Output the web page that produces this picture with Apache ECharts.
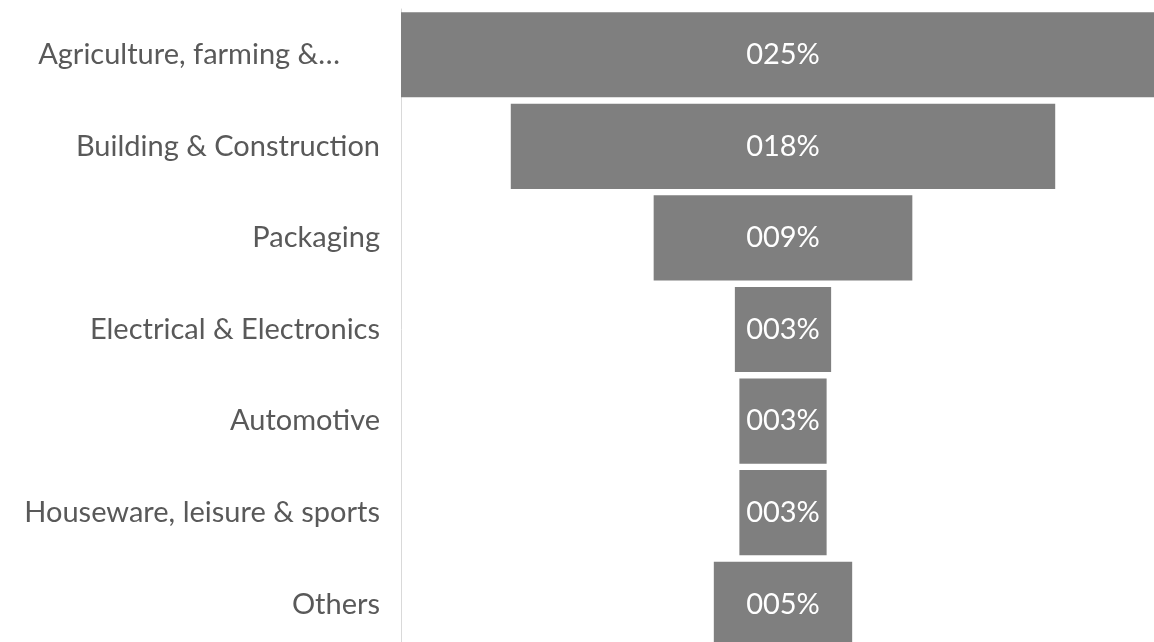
<!DOCTYPE html>
<html>
<head>
<meta charset="utf-8">
<script src="https://cdn.jsdelivr.net/npm/echarts@6/dist/echarts.min.js"></script>
<style>
  html, body { margin: 0; padding: 0; background: #fff; overflow: hidden; }
  /* the widest bar runs past the right edge of the picture, so the canvas is a bit larger than the window */
  #chart { width: 1170px; height: 656px; }
</style>
</head>
<body>
<div id="chart"></div>
<script>
// categories, top to bottom
const categories = [
    'Agriculture, farming &…',
    'Building & Construction',
    'Packaging',
    'Electrical & Electronics',
    'Automotive',
    'Houseware, leisure & sports',
    'Others'
];
// share in percent
const shares = [25.4, 18.1, 8.6, 3.2, 2.9, 2.9, 4.6];

const maxShare = Math.max(...shares);
// invisible spacer so every bar sits centred (funnel look)
const spacer = shares.map(v => (maxShare - v) / 2);

// the truncated first label sits a little further left
const yData = categories.map((c, i) => i === 0
    ? { value: c, textStyle: { padding: [0, 40, 0, 0] } }
    : c);

const chart = echarts.init(document.getElementById('chart'));
chart.setOption({
    animation: false,
    grid: { left: 401, top: 9, width: 764, height: 641 },
    xAxis: {
        type: 'value',
        min: 0,
        max: maxShare,
        show: false
    },
    yAxis: {
        type: 'category',
        data: yData,
        inverse: true,
        axisLine: { show: true, lineStyle: { color: '#d9d9d9', width: 1 } },
        axisTick: { show: false },
        axisLabel: {
            color: '#595959',
            fontFamily: 'Lato',
            fontSize: 29,
            margin: 21
        }
    },
    series: [
        {
            type: 'bar',
            stack: 'f',
            data: spacer,
            itemStyle: { color: 'transparent' },
            barCategoryGap: '7%',
            silent: true
        },
        {
            type: 'bar',
            stack: 'f',
            data: shares,
            barCategoryGap: '7%',
            itemStyle: { color: '#7f7f7f' },
            label: {
                show: true,
                position: 'inside',
                color: '#ffffff',
                fontFamily: 'Lato',
                fontSize: 29,
                formatter: p => String(Math.round(p.value)).padStart(3, '0') + '%'
            }
        }
    ]
});
</script>
</body>
</html>
